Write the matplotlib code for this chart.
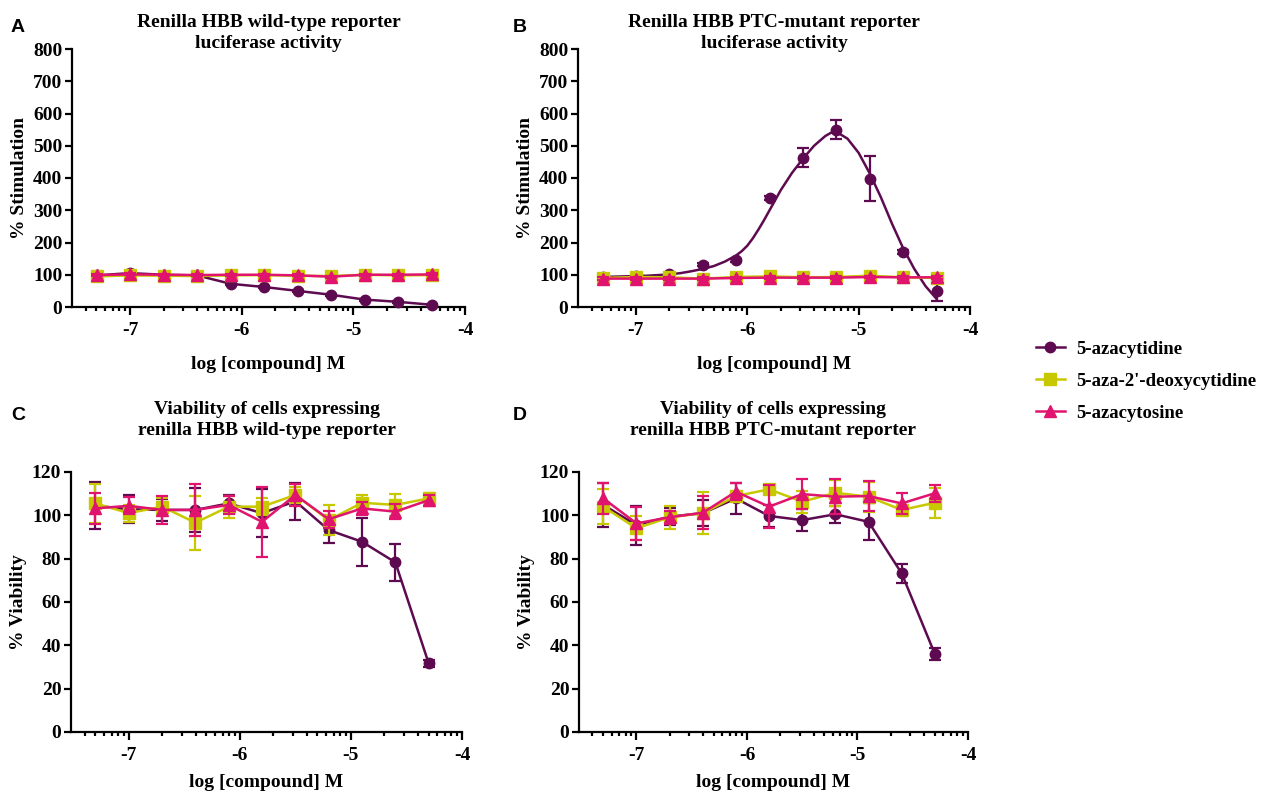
import numpy as np
import matplotlib
matplotlib.use('Agg')
import matplotlib.pyplot as plt
from matplotlib.lines import Line2D
from matplotlib.ticker import FixedLocator, MultipleLocator

# log [compound] M, half-log dilution series
logc = [-7.3, -7.0, -6.7, -6.4, -6.1, -5.8, -5.5, -5.2, -4.9, -4.6, -4.3]

names = ['5-azacytidine', "5-aza-2'-deoxycytidine", '5-azacytosine']

# Panel A: wild-type reporter luciferase, % stimulation
a_aza    = [98, 105, 100, 98, 72, 62, 50, 38, 23, 16, 7]
a_aza_e  = [3, 3, 3, 3, 3, 3, 3, 3, 3, 3, 3]
a_dac    = [95, 98, 97, 96, 98, 99, 97, 96, 100, 98, 99]
a_dac_e  = [4, 4, 4, 4, 4, 4, 4, 4, 4, 4, 4]
a_azc    = [99, 101, 100, 99, 100, 100, 98, 94, 100, 100, 101]
a_azc_e  = [3, 3, 3, 3, 3, 3, 3, 3, 3, 3, 3]

# Panel B: PTC-mutant reporter luciferase, % stimulation
b_aza    = [93, 95, 101, 131, 145, 338, 463, 550, 398, 170, 50]
b_aza_e  = [4, 4, 4, 5, 5, 6, 30, 30, 70, 6, 32]
b_dac    = [90, 93, 92, 88, 93, 95, 92, 93, 97, 92, 90]
b_dac_e  = [5, 5, 5, 6, 5, 5, 5, 5, 5, 5, 5]
b_azc    = [88, 88, 88, 88, 90, 91, 91, 91, 93, 92, 92]
b_azc_e  = [4, 4, 4, 4, 4, 4, 4, 4, 4, 4, 4]

# Panel B: fitted bell-shaped curve for 5-azacytidine
fit_x = [-7.3, -7.2, -7.1, -7.0, -6.9, -6.8, -6.7, -6.6, -6.5, -6.4, -6.3,
         -6.2, -6.1, -6.05, -6.0, -5.95, -5.9, -5.85, -5.8, -5.7, -5.6, -5.5,
         -5.4, -5.3, -5.25, -5.2, -5.1, -5.0, -4.9, -4.8, -4.7, -4.6, -4.5,
         -4.4, -4.3]
fit_y = [93, 94, 95, 96, 97, 99, 101, 105, 111, 118, 127,
         141, 160, 173, 190, 213, 240, 269, 300, 362, 415, 460,
         500, 530, 540, 543, 522, 478, 414, 340, 258, 182, 118,
         65, 25]

# Panel C: viability, wild-type reporter cells
c_aza    = [104.5, 102.8, 102.5, 102.5, 105.5, 101, 106.5, 93.2, 87.8, 78.3, 31.7]
c_aza_e  = [11, 6.5, 5, 10, 4, 11, 8.5, 6, 11, 8.7, 1.5]
c_dac    = [105.5, 101, 104, 96.6, 104, 104, 109.4, 97.8, 105.8, 104.8, 107.8]
c_dac_e  = [9, 4, 4, 12.5, 5, 4, 3.5, 7, 3.5, 5, 2.5]
c_azc    = [103.2, 104.4, 102.5, 102.5, 104.8, 97, 109.4, 98.2, 103.2, 101.7, 107]
c_azc_e  = [7, 4, 6.5, 12, 4, 16, 5, 4, 3, 3.5, 2.5]

# Panel D: viability, PTC-mutant reporter cells
d_aza    = [104.8, 95.5, 99.4, 101, 107.8, 99.7, 97.8, 100.5, 97, 73.2, 36]
d_aza_e  = [10, 9, 4, 6, 7, 5, 5, 4, 8.5, 4.2, 2.7]
d_dac    = [104, 94, 99.1, 101, 108.9, 112, 106.3, 110.4, 108.6, 102.5, 105.8]
d_dac_e  = [8, 5.5, 5.4, 9.6, 2, 2, 5, 6, 7, 2, 7]
d_azc    = [107.8, 96.3, 99.1, 101.2, 110.9, 104, 109.8, 108.6, 108.9, 105.5, 110.2]
d_azc_e  = [7, 7.7, 3, 7.5, 4, 10, 7, 8, 7, 5, 4]

colors  = ['#5e0a50', '#c8c800', '#e0146e']
markers = ['o', 's', '^']
msizes  = [7.5, 8, 8]

serif = 'Liberation Serif'
plt.rcParams['font.family'] = serif
plt.rcParams['font.weight'] = 'bold'

fig = plt.figure(figsize=(12.66, 7.94), dpi=100)


def px_axes(x0, x1, ytop, ybot):
    W, H = 1266, 794
    return fig.add_axes([x0 / W, 1 - ybot / H, (x1 - x0) / W, (ybot - ytop) / H])


def style(ax, ymax, ystep, ylabel, title, title_y, xlab_y):
    for s in ['top', 'right']:
        ax.spines[s].set_visible(False)
    for s in ['left', 'bottom']:
        ax.spines[s].set_linewidth(1.6)
    ax.set_xlim(-7.52, -4)
    ax.set_ylim(0, ymax)
    ax.yaxis.set_major_locator(MultipleLocator(ystep))
    ax.xaxis.set_major_locator(FixedLocator([-7, -6, -5, -4]))
    minors = [np.log10(k) + d for d in (-8, -7, -6, -5) for k in range(2, 10)]
    minors = [m for m in minors if -7.52 <= m <= -4]
    ax.xaxis.set_minor_locator(FixedLocator(minors))
    ax.tick_params(axis='both', which='major', direction='out', length=5, width=1.6,
                   labelsize=14, pad=2)
    ax.tick_params(axis='x', which='major', length=6, pad=5)
    ax.tick_params(axis='x', which='minor', direction='out', length=3, width=1.6)
    ax.set_xticklabels(['-7', '-6', '-5', '-4'])
    for lab in ax.get_xticklabels() + ax.get_yticklabels():
        lab.set_fontweight('bold')
    ax.set_ylabel(ylabel, fontsize=14, fontweight='bold')
    ax.yaxis.set_label_coords(-0.112, 0.5)
    ax.set_xlabel('log [compound] M', fontsize=14, fontweight='bold')
    ax.xaxis.set_label_coords(0.5, xlab_y)
    ax.text(0.5, title_y, title, transform=ax.transAxes, ha='center', va='center',
            fontsize=14, fontweight='bold', linespacing=1.32)


def draw(ax, series, lines=(True, True, True)):
    for i, (y, e) in enumerate(series):
        ax.errorbar(logc, y, yerr=e, color=colors[i], marker=markers[i],
                    markersize=msizes[i], linewidth=1.8 if lines[i] else 0,
                    elinewidth=1.6, capsize=4, capthick=1.6, clip_on=False,
                    zorder=3 + i)


# Panel A
axA = px_axes(72, 465, 49, 307)
draw(axA, [(a_aza, a_aza_e), (a_dac, a_dac_e), (a_azc, a_azc_e)])
style(axA, 800, 100, '% Stimulation',
      'Renilla HBB wild-type reporter\nluciferase activity', 1.062, -0.19)

# Panel B
axB = px_axes(578, 970, 49, 307)
draw(axB, [(b_aza, b_aza_e), (b_dac, b_dac_e), (b_azc, b_azc_e)], lines=(False, True, True))
axB.plot(fit_x, fit_y, color=colors[0], linewidth=1.8, zorder=3)
style(axB, 800, 100, '% Stimulation',
      'Renilla HBB PTC-mutant reporter\nluciferase activity', 1.062, -0.19)

# Panel C
axC = px_axes(71, 462, 472, 732)
draw(axC, [(c_aza, c_aza_e), (c_dac, c_dac_e), (c_azc, c_azc_e)])
style(axC, 120, 20, '% Viability',
      'Viability of cells expressing\nrenilla HBB wild-type reporter', 1.2, -0.16)

# Panel D
axD = px_axes(579, 968, 472, 732)
draw(axD, [(d_aza, d_aza_e), (d_dac, d_dac_e), (d_azc, d_azc_e)])
style(axD, 120, 20, '% Viability',
      'Viability of cells expressing\nrenilla HBB PTC-mutant reporter', 1.2, -0.16)

# Panel letters
for lab, (x, y) in zip('ABCD', [(18, 27), (520, 27), (18, 415), (520, 415)]):
    fig.text(x / 1266, 1 - y / 794, lab, fontsize=14, fontweight='bold',
             family='Liberation Sans', ha='center', va='center')

# Legend (line + marker only)
hs = [Line2D([], [], color=colors[i], marker=markers[i], markersize=msizes[i],
             linewidth=1.8) for i in range(3)]
fig.legend(handles=hs, labels=names, loc='upper left',
           bbox_to_anchor=(1027 / 1266, 1 - 331 / 794), frameon=False,
           prop={'family': serif, 'weight': 'bold', 'size': 13.5},
           handlelength=1.5, handletextpad=0.6, labelspacing=0.8, borderpad=0)

fig.savefig('out.png', dpi=100)
